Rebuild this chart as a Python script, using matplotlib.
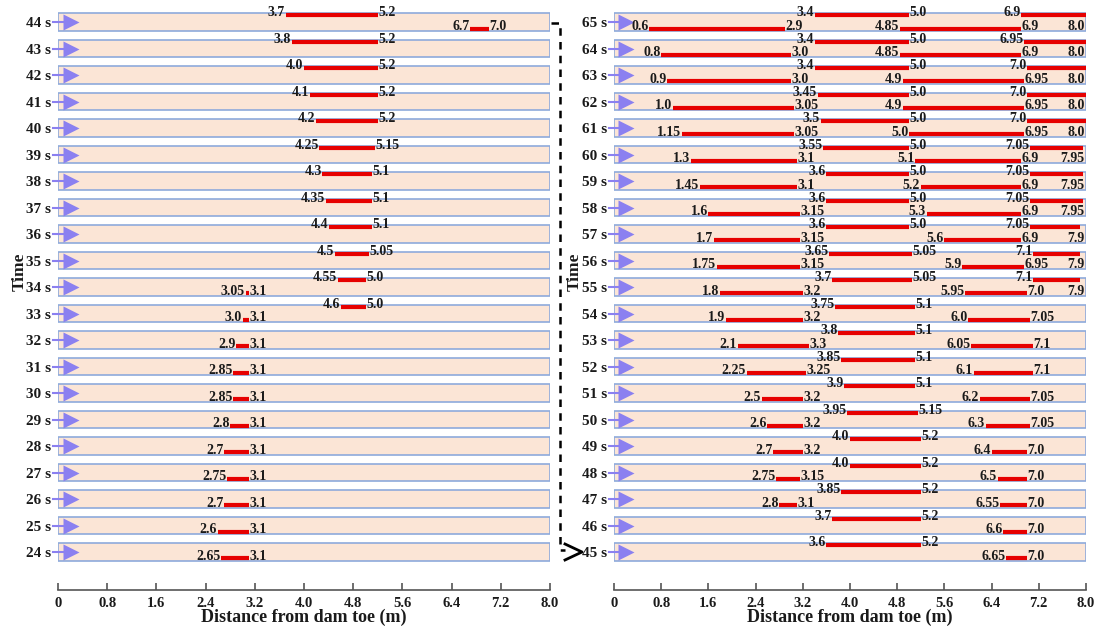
import matplotlib.pyplot as plt
from matplotlib.lines import Line2D

plt.rcParams['font.family'] = 'Liberation Serif'
plt.rcParams['font.weight'] = 'bold'
plt.rcParams['axes.labelweight'] = 'bold'

# =============================================================================
# Data: red segments (start, end) in m, upper and lower level of each strip
# =============================================================================
left_times = list(range(44, 23, -1))
left_top = [
    [(3.7, 5.2)], [(3.8, 5.2)], [(4.0, 5.2)], [(4.1, 5.2)], [(4.2, 5.2)],
    [(4.25, 5.15)], [(4.3, 5.1)], [(4.35, 5.1)], [(4.4, 5.1)], [(4.5, 5.05)],
    [(4.55, 5.0)], [(4.6, 5.0)], [], [], [], [], [], [], [], [], [],
]
left_bottom = [
    [(6.7, 7.0)], [], [], [], [], [], [], [], [], [],
    [(3.05, 3.1)], [(3.0, 3.1)], [(2.9, 3.1)], [(2.85, 3.1)], [(2.85, 3.1)],
    [(2.8, 3.1)], [(2.7, 3.1)], [(2.75, 3.1)], [(2.7, 3.1)], [(2.6, 3.1)],
    [(2.65, 3.1)],
]

right_times = list(range(65, 44, -1))
right_top = [
    [(3.4, 5.0), (6.9, 8.0)], [(3.4, 5.0), (6.95, 8.0)], [(3.4, 5.0), (7.0, 8.0)],
    [(3.45, 5.0), (7.0, 8.0)], [(3.5, 5.0), (7.0, 8.0)], [(3.55, 5.0), (7.05, 7.95)],
    [(3.6, 5.0), (7.05, 7.95)], [(3.6, 5.0), (7.05, 7.95)], [(3.6, 5.0), (7.05, 7.9)],
    [(3.65, 5.05), (7.1, 7.9)], [(3.7, 5.05), (7.1, 7.9)],
    [(3.75, 5.1)], [(3.8, 5.1)], [(3.85, 5.1)], [(3.9, 5.1)], [(3.95, 5.15)],
    [(4.0, 5.2)], [(4.0, 5.2)], [(3.85, 5.2)], [(3.7, 5.2)], [(3.6, 5.2)],
]
right_bottom = [
    [(0.6, 2.9), (4.85, 6.9)], [(0.8, 3.0), (4.85, 6.9)], [(0.9, 3.0), (4.9, 6.95)],
    [(1.0, 3.05), (4.9, 6.95)], [(1.15, 3.05), (5.0, 6.95)], [(1.3, 3.1), (5.1, 6.9)],
    [(1.45, 3.1), (5.2, 6.9)], [(1.6, 3.15), (5.3, 6.9)], [(1.7, 3.15), (5.6, 6.9)],
    [(1.75, 3.15), (5.9, 6.95)], [(1.8, 3.2), (5.95, 7.0)],
    [(1.9, 3.2), (6.0, 7.05)], [(2.1, 3.3), (6.05, 7.1)], [(2.25, 3.25), (6.1, 7.1)],
    [(2.5, 3.2), (6.2, 7.05)], [(2.6, 3.2), (6.3, 7.05)], [(2.7, 3.2), (6.4, 7.0)],
    [(2.75, 3.15), (6.5, 7.0)], [(2.8, 3.1), (6.55, 7.0)], [(6.6, 7.0)], [(6.65, 7.0)],
]

x_ticks = [0, 0.8, 1.6, 2.4, 3.2, 4.0, 4.8, 5.6, 6.4, 7.2, 8.0]
x_tick_labels = ['0', '0.8', '1.6', '2.4', '3.2', '4.0', '4.8', '5.6', '6.4', '7.2', '8.0']
channel_length = 8.0

# =============================================================================
# Style settings
# =============================================================================
strip_fill  = '#fbe5d6'
strip_edge  = '#8eaadb'
arrow_color = '#8b80f0'
seg_color   = '#e60000'
text_color  = '#1a1a1a'
top_off, bot_off = 0.26, -0.24


def fmt(v):
    return '{:g}'.format(v) if v % 1 else '{:.1f}'.format(v)


def label_seg(ax, x, y, txt, side):
    if side == 'left':
        ax.annotate(txt, (x, y - 0.04), xytext=(-0.5, 0), textcoords='offset points',
                    ha='right', va='baseline', fontsize=10, color=text_color, zorder=5)
    else:
        ax.annotate(txt, (x, y - 0.04), xytext=(0.5, 0), textcoords='offset points',
                    ha='left', va='baseline', fontsize=10, color=text_color, zorder=5)


def draw_panel(ax, times, top, bottom):
    n = len(times)
    rows = [n - 1 - i for i in range(n)]
    ax.barh(rows, channel_length, left=0, height=0.66, color=strip_fill,
            edgecolor=strip_edge, linewidth=1.2, zorder=1)
    for r in rows:
        ax.plot([-0.08, 0.15], [r, r], color=arrow_color, lw=1.5, clip_on=False, zorder=2)
        ax.plot(0.21, r, marker='>', ms=11, color=arrow_color, mec='none', zorder=2)
    for r, segs in zip(rows, top):
        y = r + top_off
        for s, e in segs:
            ax.plot([s, e], [y, y], color=seg_color, lw=3, solid_capstyle='butt', zorder=3)
            label_seg(ax, s, y, fmt(s), 'left')
            if e >= 7.9:
                # no room on the right: end value goes under the strip end
                ax.annotate(fmt(e), (channel_length, r + bot_off - 0.04), xytext=(-1, 0),
                            textcoords='offset points', ha='right', va='baseline',
                            fontsize=10, color=text_color, zorder=5)
            else:
                label_seg(ax, e, y, fmt(e), 'right')
    for r, segs in zip(rows, bottom):
        y = r + bot_off
        for s, e in segs:
            ax.plot([s, e], [y, y], color=seg_color, lw=3, solid_capstyle='butt', zorder=3)
            label_seg(ax, s, y, fmt(s), 'left')
            label_seg(ax, e, y, fmt(e), 'right')

    ax.set_xlim(0, channel_length)
    ax.set_ylim(-1.43, 20.8)
    ax.set_yticks(rows)
    ax.set_yticklabels(['{} s'.format(t) for t in times], fontsize=11, color=text_color)
    ax.tick_params(axis='y', length=0, pad=5)
    ax.set_xticks(x_ticks)
    ax.set_xticklabels(x_tick_labels, fontsize=10.5, color=text_color)
    ax.tick_params(axis='x', direction='in', length=5, width=1.2, color='#555555', pad=5)
    for sp in ['left', 'right', 'top']:
        ax.spines[sp].set_visible(False)
    ax.spines['bottom'].set_color('#555555')
    ax.spines['bottom'].set_linewidth(1.2)
    ax.set_xlabel('Distance from dam toe (m)', fontsize=13, labelpad=-1, color=text_color)
    ax.set_ylabel('Time', fontsize=12.5, color=text_color)
    ax.patch.set_alpha(0)


fig = plt.figure(figsize=(11.05, 6.32), dpi=100)
ax1 = fig.add_axes([58 / 1105, 0.0665, 492 / 1105, 0.932])
ax2 = fig.add_axes([614 / 1105, 0.0665, 472 / 1105, 0.932])
draw_panel(ax1, left_times, left_top, left_bottom)
draw_panel(ax2, right_times, right_top, right_bottom)
ax1.yaxis.set_label_coords(-0.062, 0.54)
ax2.yaxis.set_label_coords(-0.066, 0.54)

# dashed link from the 44 s strip to the 45 s strip
W, H = 1105.0, 632.0
px = [551, 560, 560, 565]
py = [23, 23, 550, 550]
fig.add_artist(Line2D([x / W for x in px], [1 - y / H for y in py], color='black',
                      lw=1.8, ls=(0, (3, 2.5)), transform=fig.transFigure))
fig.add_artist(Line2D([565 / W, 582 / W, 565 / W], [1 - 544 / H, 1 - 552 / H, 1 - 560 / H],
                      color='black', lw=2, transform=fig.transFigure))

fig.savefig('out.png', dpi=100)
